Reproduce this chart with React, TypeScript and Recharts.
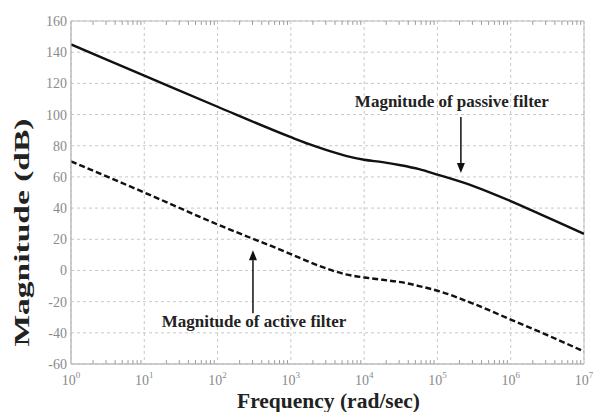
import React from 'react';
import { LineChart, Line, XAxis, YAxis, CartesianGrid, ReferenceLine, ReferenceArea } from 'recharts';

// Frequency points (rad/sec)
const frequency = [1, 10, 100, 1000, 1778, 3162, 5623, 10000, 17783, 31623, 56234, 100000, 316228, 1000000, 3162278, 10000000];
// Magnitude of passive filter (dB)
const passiveMagnitude = [145, 125, 105, 85.5, 81, 77, 73.5, 71, 69.5, 67.5, 65, 61.5, 54, 44.5, 34, 23.5];
// Magnitude of active filter (dB)
const activeMagnitude = [70, 50, 29.5, 10.5, 5.5, 1, -2.5, -4.5, -6, -7.5, -10, -13, -21.5, -31.5, -41.5, -52];

const xTicks = [1, 10, 100, 1000, 10000, 100000, 1000000, 10000000];
const xTickExponents = ['0', '1', '2', '3', '4', '5', '6', '7'];
const yTicks = [-60, -40, -20, 0, 20, 40, 60, 80, 100, 120, 140, 160];
const minorMultipliers = [2, 3, 4, 5, 6, 7, 8, 9];

// Annotation anchors (data coordinates)
const passiveArrow = { x: 209000, from: 98.5, to: 62.5, text: 'Magnitude of passive filter' };
const activeArrow = { x: 304, from: -27.5, to: 13, text: 'Magnitude of active filter' };

const data = frequency.map((f, i) => ({ f, passive: passiveMagnitude[i], active: activeMagnitude[i] }));
const minorTicks = xTicks.slice(0, -1).flatMap((d) => minorMultipliers.map((m) => m * d));

const SERIF = 'Liberation Serif, Times New Roman, Times, serif';

const XTick = (props: any) => {
  const { x, y, payload } = props;
  const i = xTicks.indexOf(payload.value);
  return (
    <text x={x} y={y + 13} textAnchor="middle" fontFamily={SERIF} fontSize={14} fill="#8a8a8a" style={{ fontFamily: SERIF }}>
      10<tspan dy={-7} fontSize={9}>{xTickExponents[i]}</tspan>
    </text>
  );
};

const YTick = (props: any) => {
  const { x, y, payload } = props;
  return (
    <text x={x} y={y} dy={5} textAnchor="end" fontFamily={SERIF} fontSize={14} fill="#8a8a8a" style={{ fontFamily: SERIF }}>
      {payload.value}
    </text>
  );
};

const YLabel = (props: any) => {
  const vb = props.viewBox || { x: 0, y: 21, width: 71, height: 343 };
  const cx = vb.x + 22;
  const cy = vb.y + vb.height / 2 + 40;
  return (
    <text
      x={cx}
      y={cy}
      transform={`rotate(-90, ${cx}, ${cy})`}
      textAnchor="middle"
      dominantBaseline="central"
      fontFamily={SERIF}
      style={{ fontFamily: SERIF }}
      fontWeight="bold"
      fontSize={21}
      fill="#222"
      textLength={228}
      lengthAdjust="spacingAndGlyphs"
    >
      Magnitude (dB)
    </text>
  );
};

const XLabel = (props: any) => {
  const vb = props.viewBox || { x: 71, y: 364, width: 513, height: 48 };
  const cx = vb.x + vb.width / 2 + 1;
  const cy = vb.y + 44;
  return (
    <text
      x={cx}
      y={cy}
      textAnchor="middle"
      fontFamily={SERIF}
      style={{ fontFamily: SERIF }}
      fontWeight="bold"
      fontSize={20}
      fill="#222"
      textLength={183}
      lengthAdjust="spacingAndGlyphs"
    >
      Frequency (rad/sec)
    </text>
  );
};

const Arrow = (props: any) => {
  const { x1, y1, x2, y2, text, tdx, tdy } = props;
  if (x1 == null) return null;
  const dir = y2 > y1 ? 1 : -1;
  const head = 10;
  const hw = 4;
  return (
    <g>
      <line x1={x1} y1={y1} x2={x2} y2={y2 - dir * head} stroke="#111" strokeWidth={1.5} />
      <polygon
        points={`${x2},${y2} ${x2 - hw},${y2 - dir * head} ${x2 + hw},${y2 - dir * head}`}
        fill="#111"
      />
      <text
        x={x1 + tdx}
        y={y1 + tdy}
        textAnchor="middle"
        fontFamily={SERIF}
        style={{ fontFamily: SERIF }}
        fontWeight="bold"
        fontSize={17}
        fill="#222"
      >
        {text}
      </text>
    </g>
  );
};

export default function App() {
  return (
    <div style={{ position: 'absolute', left: 0, top: 0, width: 596, height: 412, background: '#fff' }}>
      <LineChart width={596} height={412} data={data} margin={{ top: 21, right: 12, bottom: 0, left: 0 }}>
        <CartesianGrid stroke="#c8c8c8" strokeDasharray="3 3" />
        <XAxis
          dataKey="f"
          type="number"
          scale="log"
          domain={[1, 10000000]}
          ticks={xTicks}
          tick={<XTick />}
          height={48}
          tickLine={false}
          axisLine={{ stroke: '#bdbdbd' }}
          allowDataOverflow
          interval={0}
          label={<XLabel />}
        />
        <YAxis
          type="number"
          domain={[-60, 160]}
          ticks={yTicks}
          width={71}
          tickLine={false}
          tickSize={0}
          tickMargin={4}
          axisLine={{ stroke: '#bdbdbd' }}
          interval={0}
          tick={<YTick />}
          label={<YLabel />}
        />
        <ReferenceArea x1={1} x2={10000000} y1={-60} y2={160} fill="none" stroke="#bdbdbd" strokeWidth={1} />
        {minorTicks.map((v) => (
          <ReferenceLine
            key={`mb${v}`}
            segment={[{ x: v, y: -60 }, { x: v, y: -57.5 }]}
            stroke="#9a9a9a"
            strokeWidth={1}
          />
        ))}
        {minorTicks.map((v) => (
          <ReferenceLine
            key={`mt${v}`}
            segment={[{ x: v, y: 160 }, { x: v, y: 157.5 }]}
            stroke="#9a9a9a"
            strokeWidth={1}
          />
        ))}
        <Line
          type="monotone"
          dataKey="passive"
          stroke="#111"
          strokeWidth={2.4}
          dot={false}
          isAnimationActive={false}
        />
        <Line
          type="monotone"
          dataKey="active"
          stroke="#111"
          strokeWidth={2.4}
          strokeDasharray="6 3"
          dot={false}
          isAnimationActive={false}
        />
        <ReferenceLine
          segment={[{ x: passiveArrow.x, y: passiveArrow.from }, { x: passiveArrow.x, y: passiveArrow.to }]}
          shape={(p: any) => <Arrow {...p} text={passiveArrow.text} tdx={-9} tdy={-10} />}
        />
        <ReferenceLine
          segment={[{ x: activeArrow.x, y: activeArrow.from }, { x: activeArrow.x, y: activeArrow.to }]}
          shape={(p: any) => <Arrow {...p} text={activeArrow.text} tdx={1} tdy={14} />}
        />
      </LineChart>
    </div>
  );
}
